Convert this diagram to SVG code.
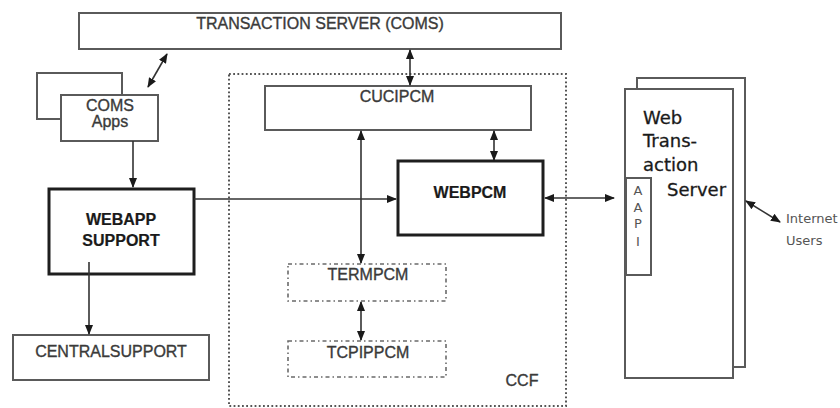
<svg xmlns="http://www.w3.org/2000/svg" width="840" height="408" viewBox="0 0 840 408">
  <style>
    .box { fill: #fff; stroke: #5a5a5a; stroke-width: 2; }
    .thick { fill: #fff; stroke: #1e1e1e; stroke-width: 3; }
    .dashdot { fill: none; stroke: #6a6a6a; stroke-width: 1.6; stroke-dasharray: 4 3 1.5 3; }
    .dotted { fill: none; stroke: #555; stroke-width: 2; stroke-dasharray: 1.8 2.4; }
    .lbl { font-family: "Liberation Sans", Arial, sans-serif; font-size: 16px; fill: #3a3a3a; stroke: #3a3a3a; stroke-width: 0.35; text-anchor: middle; }
    .bold { font-weight: bold; fill: #1a1a1a; stroke: #1a1a1a; stroke-width: 0.2; }
    .web { font-family: "DejaVu Sans", Verdana, sans-serif; font-size: 18px; fill: #1a1a1a; stroke: #1a1a1a; stroke-width: 0.3; }
    .small { font-family: "DejaVu Sans", Verdana, sans-serif; font-size: 13px; fill: #555; }
    .conn { fill: none; stroke: #333; stroke-width: 1.6; }
  </style>
  <defs>
    <marker id="arr" markerUnits="userSpaceOnUse" markerWidth="10" markerHeight="10" viewBox="0 0 10 10" refX="9" refY="5" orient="auto-start-reverse">
      <path d="M0,1 L10,5 L0,9 Z" fill="#1a1a1a"/>
    </marker>
  </defs>

  <rect width="840" height="408" fill="#fff"/>

  <!-- CCF boundary -->
  <g id="ccf">
    <rect class="dotted" x="229" y="74" width="337" height="332"/>
    <text class="lbl" x="522" y="386" font-size="16.5" fill="#555" stroke="#555">CCF</text>
  </g>

  <g id="transaction-server">
    <rect class="box" x="79" y="13" width="482" height="36" stroke="#707070"/>
    <text class="lbl" x="320" y="29" font-size="16.5">TRANSACTION SERVER (COMS)</text>
  </g>

  <g id="coms-apps">
    <rect class="box" x="37" y="73" width="85" height="46" stroke="#666"/>
    <rect class="box" x="61" y="95" width="97" height="46" stroke="#666"/>
    <text class="lbl" x="110" y="111">COMS</text>
    <text class="lbl" x="110" y="127">Apps</text>
  </g>

  <g id="webapp-support">
    <rect class="thick" x="49" y="189" width="145" height="85"/>
    <text class="lbl bold" x="121" y="225">WEBAPP</text>
    <text class="lbl bold" x="121" y="246">SUPPORT</text>
  </g>

  <g id="centralsupport">
    <rect class="box" x="13" y="335" width="196" height="45" stroke="#666"/>
    <text class="lbl" x="111" y="357" font-size="16.5">CENTRALSUPPORT</text>
  </g>

  <g id="cucipcm">
    <rect class="box" x="265" y="86" width="266" height="44" stroke="#666"/>
    <text class="lbl" x="397" y="102" font-size="16.5">CUCIPCM</text>
  </g>

  <g id="webpcm">
    <rect class="thick" x="398" y="161" width="145" height="74"/>
    <text class="lbl bold" x="470" y="198">WEBPCM</text>
  </g>

  <g id="termpcm">
    <rect class="dashdot" x="288" y="264" width="158" height="37"/>
    <text class="lbl" x="368" y="280">TERMPCM</text>
  </g>

  <g id="tcpippcm">
    <rect class="dashdot" x="288" y="341" width="158" height="36"/>
    <text class="lbl" x="368" y="358">TCPIPPCM</text>
  </g>

  <g id="web-transaction-server">
    <rect class="box" x="637" y="78" width="108" height="289" stroke="#777" stroke-width="1.6"/>
    <rect class="box" x="625" y="89" width="108" height="289" stroke="#666"/>
    <text class="web" x="643" y="124">Web</text>
    <text class="web" x="643" y="147">Trans-</text>
    <text class="web" x="643" y="171">action</text>
    <text class="web" x="667" y="196">Server</text>
    <rect class="box" x="626" y="178" width="25" height="97" stroke="#666" stroke-width="1.6"/>
    <g class="small" text-anchor="middle" font-size="12">
      <text x="638" y="195">A</text>
      <text x="638" y="212">A</text>
      <text x="638" y="228">P</text>
      <text x="638" y="246">I</text>
    </g>
  </g>

  <g id="internet-users">
    <text class="small" x="786" y="223">Internet</text>
    <text class="small" x="786" y="245">Users</text>
  </g>

  <!-- connectors -->
  <g id="connectors">
    <line class="conn" x1="167" y1="54" x2="148" y2="87" marker-start="url(#arr)" marker-end="url(#arr)"/>
    <line class="conn" x1="410" y1="50" x2="410" y2="85" marker-start="url(#arr)" marker-end="url(#arr)"/>
    <line class="conn" x1="133" y1="141" x2="133" y2="187" marker-end="url(#arr)"/>
    <line class="conn" x1="194" y1="199" x2="396" y2="199" marker-end="url(#arr)"/>
    <line class="conn" x1="361" y1="131" x2="361" y2="263" marker-start="url(#arr)" marker-end="url(#arr)"/>
    <line class="conn" x1="494" y1="131" x2="494" y2="160" marker-start="url(#arr)" marker-end="url(#arr)"/>
    <line class="conn" x1="361" y1="302" x2="361" y2="340" marker-start="url(#arr)" marker-end="url(#arr)"/>
    <line class="conn" x1="545" y1="198" x2="614" y2="198" marker-start="url(#arr)" marker-end="url(#arr)"/>
    <line class="conn" x1="89" y1="262" x2="89" y2="334" marker-end="url(#arr)"/>
    <line class="conn" x1="746" y1="201" x2="780" y2="222" marker-start="url(#arr)" marker-end="url(#arr)"/>
  </g>
</svg>
